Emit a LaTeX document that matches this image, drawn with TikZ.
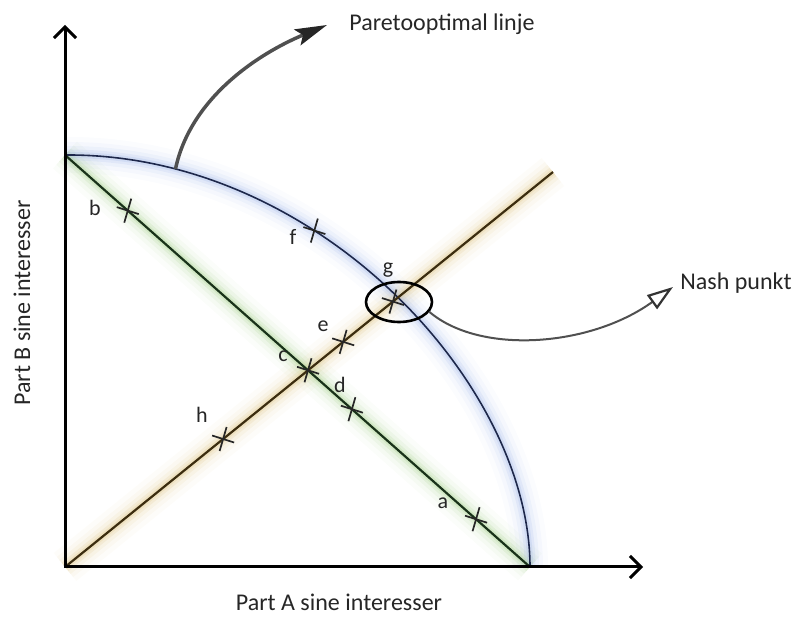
\documentclass[tikz,border=0pt]{standalone}
\usepackage{fontspec}
\setmainfont{Carlito}
\usetikzlibrary{arrows.meta,shapes.geometric,calc}
\definecolor{paretoc}{RGB}{30,40,75}
\definecolor{greenc}{RGB}{25,50,25}
\definecolor{orangec}{RGB}{60,45,15}
\definecolor{glowblue}{RGB}{150,175,230}
\definecolor{glowgreen}{RGB}{150,200,120}
\definecolor{glowtan}{RGB}{215,185,110}
\definecolor{arrowgray}{RGB}{80,80,80}
\begin{document}
\begin{tikzpicture}[x=1pt,y=-1pt,
  axisline/.style={line width=3pt, draw=black, -{Straight Barb[length=11pt,width=22pt,line width=3pt]}},
  lbl/.style={font=\fontsize{22}{24}\selectfont, inner sep=0pt, text=black!85},
  bigtext/.style={font=\fontsize{24}{28}\selectfont, inner sep=0pt, text=black!85},
  tickmark/.style={line width=1.7pt, draw=black!85},
  cross/.pic={\draw[tickmark] (3.5,-12) -- (-3.5,12); \draw[tickmark] (-11,-3.5) -- (11,3.5);}
]
\useasboundingbox (0,0) rectangle (796,617);

% key points
\coordinate (O) at (65,567);
\coordinate (ytop) at (65,25);
\coordinate (xend) at (643,567);
\coordinate (P) at (65,155);
\coordinate (Q) at (530,567);
\coordinate (R) at (553,172);
\coordinate (C1) at (318,153);
\coordinate (C2) at (530,385);

% glows
\foreach \w/\o in {36/0.04,26/0.06,18/0.09,11/0.14,6/0.2}{
  \draw[line width=\w pt, draw=glowblue, opacity=\o] (P) .. controls (C1) and (C2) .. (Q);
  \draw[line width=\w pt, draw=glowgreen, opacity=\o] (P) -- (Q);
  \draw[line width=\w pt, draw=glowtan, opacity=\o] (O) -- (R);
}

% lines
\draw[line width=1.6pt, draw=paretoc] (P) .. controls (C1) and (C2) .. (Q)
  coordinate[pos=0.36] (tf) coordinate[pos=0.15] (pa);
\draw[line width=2.2pt, draw=greenc] (P) -- (Q);
\draw[line width=2.2pt, draw=orangec] (O) -- (R);

% axes
\draw[axisline] (O) -- (ytop);
\draw[axisline] ($(O)+(-1.5,0)$) -- (xend);

% tick positions
\coordinate (ta) at ($(P)!0.884!(Q)$);
\coordinate (tb) at ($(P)!0.135!(Q)$);
\coordinate (tc) at (intersection of P--Q and O--R);
\coordinate (td) at ($(P)!0.617!(Q)$);
\coordinate (th) at ($(O)!0.324!(R)$);
\coordinate (te) at ($(O)!0.570!(R)$);
\coordinate (tg) at ($(O)!0.672!(R)$);
\foreach \t in {ta,tb,tc,td,te,tf,tg,th}{ \pic at (\t) {cross}; }

% labels
\node[lbl] (la) at (443,503) {a};
\node[lbl] (lb) at (95,208) {b};
\node[lbl] (lc) at (283,356) {c};
\node[lbl] (ld) at (340,385) {d};
\node[lbl] (le) at (323,326) {e};
\node[lbl] (lf) at (293,237) {f};
\node[lbl] (lg) at (388,270) {g};
\node[lbl] (lh) at (202,415) {h};

% Nash ring
\node[draw, line width=2.6pt, ellipse, minimum width=66pt, minimum height=40pt, inner sep=0pt] (ring) at (399,302) {};

% texts
\node[bigtext] (pareto) at (442,24) {Paretooptimal linje};
\node[bigtext] (nash) at (736,283) {Nash punkt};
\node[bigtext] (xlab) at (339,602) {Part A sine interesser};
\node[bigtext, rotate=90] (ylab) at (22,303) {Part B sine interesser};

% connectors
\coordinate (ptip) at (327,25);
\draw[line width=3.5pt, draw=arrowgray, -{Stealth[length=32pt,width=17pt,inset=6pt,color=black!85]}]
  (pa) .. controls (190,100) and (255,55) .. (ptip);
\coordinate (ntip) at (673,287);
\draw[line width=2pt, draw=arrowgray, -{Triangle[open,length=26pt,width=17pt,line width=2.2pt,color=black!80]}]
  (ring.-18) .. controls (480,355) and (590,347) .. (ntip);
\end{tikzpicture}
\end{document}
